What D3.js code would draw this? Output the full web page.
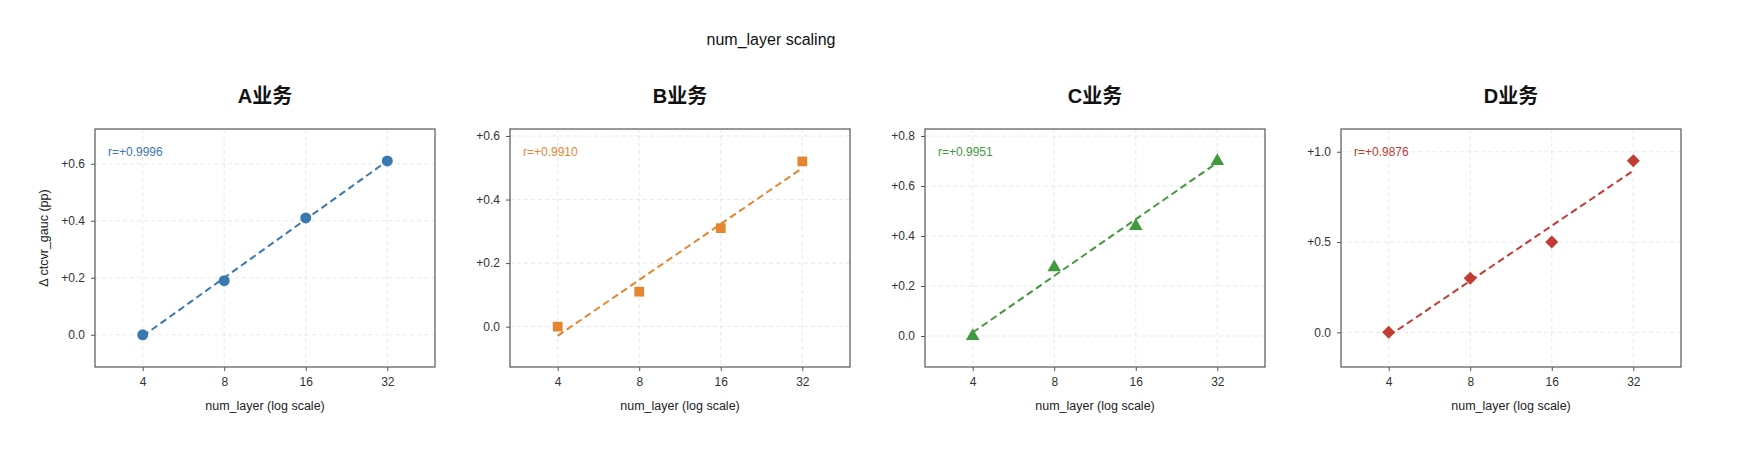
<!DOCTYPE html>
<html><head><meta charset="utf-8">
<script src="https://cdn.jsdelivr.net/npm/d3@7"></script>
<style>body{margin:0;background:#fff;font-family:"Liberation Sans",Arial,sans-serif;}</style>
</head><body><svg id="c" width="1742" height="454"></svg>
<script>
const layers = [4, 8, 16, 32];
const panelNames = ["A业务", "B业务", "C业务", "D业务"];
const seriesA = [0.0, 0.19, 0.41, 0.61];
const seriesB = [0.0, 0.11, 0.31, 0.52];
const seriesC = [0.0, 0.275, 0.44, 0.70];
const seriesD = [0.0, 0.30, 0.50, 0.95];
const rLabels = ["r=+0.9996", "r=+0.9910", "r=+0.9951", "r=+0.9876"];
const colors = ["#3a78b0", "#e5852f", "#42993f", "#c23b34"];
const yDomains = [[-0.113, 0.722], [-0.127, 0.622], [-0.124, 0.828], [-0.192, 1.126]];
const yTicks = [[0, 0.2, 0.4, 0.6], [0, 0.2, 0.4, 0.6], [0, 0.2, 0.4, 0.6, 0.8], [0, 0.5, 1.0]];
const symbols = [d3.symbolCircle, d3.symbolSquare, d3.symbolTriangle, d3.symbolSquare];
const symbolSizes = [95, 95, 80, 85];
const symbolRotate = [0, 0, 0, 45];
const series = [seriesA, seriesB, seriesC, seriesD];

const svg = d3.select("#c");
svg.append("text").attr("x", 771).attr("y", 45).attr("text-anchor", "middle")
  .attr("font-size", 16).attr("fill", "#111").text("num_layer scaling");

const fmt = v => v === 0 ? "0.0" : "+" + v.toFixed(1);
const W = 340, H = 238, panelTop = 129, lefts = [95, 510, 925, 1341];

series.forEach((ys, i) => {
  const g = svg.append("g").attr("transform", `translate(${lefts[i]},${panelTop})`);
  const x = d3.scaleLog().base(2).domain([4 / 1.5, 32 * 1.5]).range([0, W]);
  const y = d3.scaleLinear().domain(yDomains[i]).range([H, 0]);
  g.selectAll(".gx").data(layers).join("line").attr("x1", d => x(d)).attr("x2", d => x(d))
    .attr("y1", 0).attr("y2", H).attr("stroke", "#e2e2e2").attr("stroke-dasharray", "4,3").attr("stroke-width", 0.8);
  g.selectAll(".gy").data(yTicks[i]).join("line").attr("y1", d => y(d)).attr("y2", d => y(d))
    .attr("x1", 0).attr("x2", W).attr("stroke", "#e2e2e2").attr("stroke-dasharray", "4,3").attr("stroke-width", 0.8);
  const xa = g.append("g").attr("transform", `translate(0,${H})`)
    .call(d3.axisBottom(x).tickValues(layers).tickFormat(d3.format("d")).tickSize(4).tickPadding(6));
  const ya = g.append("g").call(d3.axisLeft(y).tickValues(yTicks[i]).tickFormat(fmt).tickSize(4).tickPadding(6));
  [xa, ya].forEach(a => {
    a.select(".domain").remove();
    a.selectAll("line").attr("stroke", "#555");
    a.selectAll("text").attr("font-size", 12).attr("fill", "#333").attr("font-family", "Liberation Sans, Arial, sans-serif");
  });
  g.append("rect").attr("width", W).attr("height", H).attr("fill", "none").attr("stroke", "#555").attr("stroke-width", 1.2);
  const lx = layers.map(v => Math.log2(v));
  const mx = d3.mean(lx), my = d3.mean(ys);
  const slope = d3.sum(lx, (v, k) => (v - mx) * (ys[k] - my)) / d3.sum(lx, v => (v - mx) ** 2);
  const fit = layers.map(v => [v, my + slope * (Math.log2(v) - mx)]);
  g.append("path").attr("d", d3.line().x(d => x(d[0])).y(d => y(d[1]))([fit[0], fit[3]]))
    .attr("stroke", colors[i]).attr("stroke-width", 2).attr("stroke-dasharray", "7,4").attr("fill", "none");
  g.selectAll(".pt").data(layers).join("path")
    .attr("transform", (d, k) => `translate(${x(d)},${y(ys[k])}) rotate(${symbolRotate[i]})`)
    .attr("d", d3.symbol().type(symbols[i]).size(symbolSizes[i])).attr("fill", colors[i]);
  g.append("text").attr("x", 13).attr("y", 27).attr("font-size", 12).attr("fill", colors[i]).text(rLabels[i]);
  g.append("text").attr("x", W / 2).attr("y", -26).attr("text-anchor", "middle").attr("font-size", 20)
    .attr("font-weight", "bold").attr("fill", "#111").attr("font-family", "Liberation Sans, 'Noto Sans CJK SC', sans-serif").text(panelNames[i]);
  g.append("text").attr("x", W / 2).attr("y", H + 43).attr("text-anchor", "middle").attr("font-size", 12.5)
    .attr("fill", "#222").text("num_layer (log scale)");
  if (i === 0) g.append("text").attr("transform", `translate(-47,${H / 2 - 10}) rotate(-90)`).attr("text-anchor", "middle")
    .attr("font-size", 12.5).attr("fill", "#222").text("Δ ctcvr_gauc (pp)");
});
</script></body></html>
